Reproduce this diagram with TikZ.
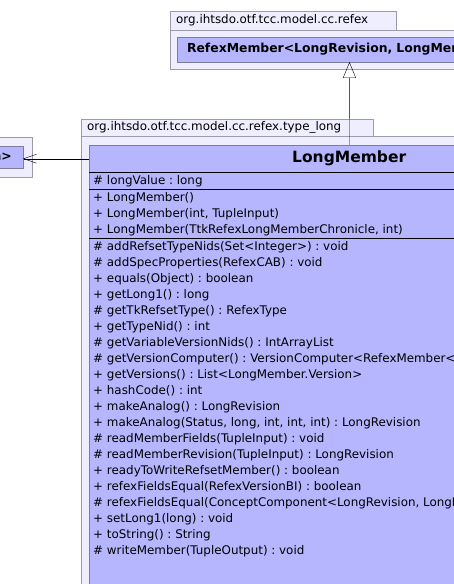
\documentclass[tikz,border=0pt]{standalone}
\usepackage{fontspec}
\setmainfont{DejaVu Sans}
\usetikzlibrary{arrows.meta,positioning}

\definecolor{pkgfill}{HTML}{EEEEFF}
\definecolor{pkgline}{HTML}{9C9CA8}
\definecolor{clsfill}{HTML}{B6B6FF}
\definecolor{clsline}{HTML}{7C7C9C}

\newcommand{\rowstrut}{\rule[-4pt]{0pt}{16pt}}

\tikzset{
  pkgbox/.style={draw=pkgline, fill=pkgfill, inner sep=0pt, anchor=north west},
  pkgname/.style={anchor=west, inner xsep=6pt, inner ysep=0pt},
  clsbox/.style={draw=clsline, fill=clsfill, inner sep=0pt},
  clsname/.style={font=\fontsize{12.4}{14}\bfseries\selectfont},
  comp/.style={anchor=north west, align=left, inner xsep=4pt, inner ysep=0.25pt,
    font=\fontsize{11.9}{16}\selectfont},
}

\begin{document}
\frenchspacing
\begin{tikzpicture}[x=1pt, y=-1pt, >=Stealth, font=\fontsize{11.9}{14}\selectfont]
\useasboundingbox (0,0) rectangle (454,584);
\clip (0,0) rectangle (454,584);

% package org.ihtsdo.otf.tcc.model.cc.refex
\node (reftab) [pkgbox, minimum width=226pt, minimum height=19pt] at (170,11) {};
\node [pkgname] at (reftab.west) {org.ihtsdo.otf.tcc.model.cc.refex};
\node (refpkg) [pkgbox, minimum width=420pt, minimum height=39pt] at (170,30) {};
\node (refex) [clsbox, clsname, text width=325pt, align=left, inner xsep=10pt,
  minimum height=24.5pt] at (349.5,49.5) {RefexMember<LongRevision, LongMember>};

% package on the left, cut by the border
\node (leftpkg) [pkgbox, minimum width=60pt, minimum height=40pt] at (-28,137) {};
\node (leftcls) [clsbox, clsname, anchor=east, inner xsep=11pt,
  minimum height=22.5pt] at (23,157) {VersionComputer<RefexMember<LongRevision, LongMember>.Version>};

% package org.ihtsdo.otf.tcc.model.cc.refex.type_long
\node (longtab) [pkgbox, minimum width=292pt, minimum height=17pt] at (81,119) {};
\node [pkgname] at (longtab.west) {org.ihtsdo.otf.tcc.model.cc.refex.type\_long};
\node (longpkg) [pkgbox, minimum width=560pt, minimum height=470pt] at (81,136) {};

% class LongMember
\node (longmember) [clsbox, anchor=north west, minimum width=520pt, minimum height=460pt] at (89,145) {};
\node (lmhead) [anchor=north, minimum width=520pt, minimum height=27pt, inner sep=0pt,
  font=\fontsize{15.5}{18}\bfseries\selectfont] at (longmember.north) {LongMember};
\node (lmattr) [comp] at (lmhead.south west) {\rowstrut\# longValue : long};
\node (lmctor) [comp] at (lmattr.south west) {%
  \rowstrut+ LongMember()\\
  \rowstrut+ LongMember(int, TupleInput)\\
  \rowstrut+ LongMember(TtkRefexLongMemberChronicle, int)};
\node (lmops) [comp] at (lmctor.south west) {%
  \rowstrut\# addRefsetTypeNids(Set<Integer>) : void\\
  \rowstrut\# addSpecProperties(RefexCAB) : void\\
  \rowstrut+ equals(Object) : boolean\\
  \rowstrut+ getLong1() : long\\
  \rowstrut\# getTkRefsetType() : RefexType\\
  \rowstrut+ getTypeNid() : int\\
  \rowstrut\# getVariableVersionNids() : IntArrayList\\
  \rowstrut\# getVersionComputer() : VersionComputer<RefexMember<LongRevision, LongMember>.Version>\\
  \rowstrut+ getVersions() : List<LongMember.Version>\\
  \rowstrut+ hashCode() : int\\
  \rowstrut+ makeAnalog() : LongRevision\\
  \rowstrut+ makeAnalog(Status, long, int, int, int) : LongRevision\\
  \rowstrut\# readMemberFields(TupleInput) : void\\
  \rowstrut\# readMemberRevision(TupleInput) : LongRevision\\
  \rowstrut+ readyToWriteRefsetMember() : boolean\\
  \rowstrut+ refexFieldsEqual(RefexVersionBI) : boolean\\
  \rowstrut\# refexFieldsEqual(ConceptComponent<LongRevision, LongMember>) : boolean\\
  \rowstrut+ setLong1(long) : void\\
  \rowstrut+ toString() : String\\
  \rowstrut\# writeMember(TupleOutput) : void};

\draw (lmattr.north west -| longmember.west) -- (lmattr.north west -| longmember.east);
\draw (lmctor.north west -| longmember.west) -- (lmctor.north west -| longmember.east);
\draw (lmops.north west -| longmember.west) -- (lmops.north west -| longmember.east);

% connectors
\draw[-{Triangle[open, length=16pt, width=13pt]}] (longmember.north) -- (refex.south);
\draw[-{Straight Barb[length=13pt, width=9pt]}] (lmhead.west) -- (lmhead.west -| leftcls.east);
\end{tikzpicture}
\end{document}
